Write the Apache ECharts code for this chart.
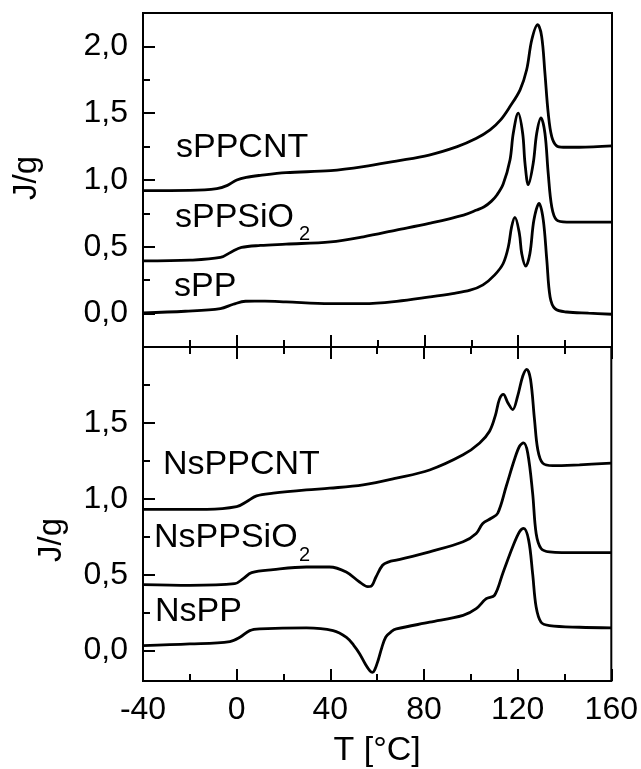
<!DOCTYPE html>
<html><head><meta charset="utf-8">
<script src="https://cdn.jsdelivr.net/npm/echarts@6/dist/echarts.min.js"></script>
<style>html,body{margin:0;padding:0;background:#fff}#c{width:641px;height:769px}</style>
</head><body><div id="c"></div>
<script>
// ---- data ----
const sPPCNT_T = [-40, -20, -8.5, -4, 0, 4, 10, 21, 40, 54, 68, 82, 94, 102, 108, 112.5, 116.5, 120.8, 123.6, 125.8, 128.3, 130, 131.4, 132.8, 134.3, 136.4, 139.2, 146, 160];
const sPPCNT_J = [0.92, 0.922, 0.935, 0.96, 1.0, 1.02, 1.035, 1.055, 1.07, 1.10, 1.142, 1.187, 1.25, 1.31, 1.375, 1.45, 1.55, 1.675, 1.825, 2.05, 2.163, 2.075, 1.80, 1.50, 1.325, 1.255, 1.245, 1.245, 1.255];

const sPPSiO2_T = [-40, -20, -7, -2.5, 2, 10, 21, 40, 54, 68, 82, 96.7, 102.3, 105.5, 108.5, 111, 113.6, 116.5, 117.9, 120, 121.9, 122.9, 124.3, 126.4, 127.9, 129.7, 131.4, 132.8, 134.3, 136.4, 140.7, 160];
const sPPSiO2_J = [0.395, 0.40, 0.42, 0.46, 0.495, 0.51, 0.52, 0.537, 0.575, 0.625, 0.675, 0.737, 0.775, 0.80, 0.84, 0.89, 0.97, 1.15, 1.35, 1.50, 1.35, 1.125, 0.965, 1.125, 1.35, 1.465, 1.35, 1.05, 0.80, 0.70, 0.685, 0.685];

const sPP_T = [-40, -22, -7, -1.5, 3.7, 12, 21, 39.7, 54, 68.2, 82.4, 92, 99.5, 105, 110, 113.6, 115.8, 117.2, 118.6, 120.5, 121.5, 123.2, 125, 126.7, 128.9, 130.7, 132.2, 133.6, 135.7, 140.7, 150, 160];
const sPP_J = [0.005, 0.0175, 0.0375, 0.07, 0.0925, 0.093, 0.0875, 0.075, 0.075, 0.092, 0.125, 0.15, 0.175, 0.215, 0.29, 0.375, 0.50, 0.65, 0.72, 0.60, 0.45, 0.355, 0.45, 0.70, 0.825, 0.70, 0.40, 0.125, 0.0375, 0.012, 0.003, -0.005];

const NsPPCNT_T = [-40, -12.8, 0, 4.2, 8.5, 15.6, 29.8, 39.7, 54, 68.2, 82.4, 96.7, 103.8, 108, 110.5, 112.2, 113.9, 115.8, 117.9, 120, 122.2, 123.9, 125.5, 127.2, 128.6, 130.7, 135, 146.4, 160];
const NsPPCNT_J = [0.931, 0.931, 0.948, 0.981, 1.019, 1.037, 1.059, 1.07, 1.092, 1.136, 1.19, 1.29, 1.368, 1.445, 1.55, 1.655, 1.688, 1.633, 1.588, 1.677, 1.809, 1.853, 1.787, 1.522, 1.324, 1.235, 1.218, 1.224, 1.235];

const NsPPSiO2_T = [-40, -20, -0.8, 2.8, 6.4, 15.6, 29.8, 39.7, 46.8, 52.5, 56, 57.4, 59.5, 62.3, 65, 68.2, 82.4, 96.7, 102.3, 105.1, 108.7, 111.5, 115.1, 118.6, 120.8, 122.5, 124.3, 126.4, 127.9, 130, 133.6, 146, 160];
const NsPPSiO2_J = [0.435, 0.43, 0.441, 0.474, 0.514, 0.534, 0.551, 0.551, 0.518, 0.452, 0.422, 0.424, 0.485, 0.5625, 0.585, 0.596, 0.651, 0.717, 0.772, 0.838, 0.872, 0.905, 1.081, 1.257, 1.346, 1.368, 1.302, 1.037, 0.772, 0.673, 0.651, 0.645, 0.645];

const NsPP_T = [-40, -20, -2.9, 1.4, 5.6, 9.9, 29.8, 41.2, 46.9, 50, 52.5, 55, 57, 58, 59, 60.5, 62, 63.7, 66, 68.2, 82.4, 96.7, 102.3, 106.6, 110.1, 113.6, 117.9, 120.8, 122.6, 124.7, 126.4, 127.9, 130, 133.6, 146.4, 160];
const NsPP_J = [0.033, 0.044, 0.06, 0.088, 0.132, 0.143, 0.15, 0.132, 0.088, 0.035, -0.02, -0.09, -0.135, -0.143, -0.125, -0.06, 0.02, 0.09, 0.125, 0.143, 0.187, 0.232, 0.276, 0.342, 0.364, 0.507, 0.684, 0.783, 0.805, 0.728, 0.507, 0.287, 0.187, 0.165, 0.154, 0.15];

const topYMajor = [0, 0.5, 1.0, 1.5, 2.0];
const topYMinor = [0.25, 0.75, 1.25, 1.75];
const botYMajor = [0, 0.5, 1.0, 1.5];
const botYMinor = [0.25, 0.75, 1.25, 1.75];

const FONT = '"Liberation Sans", Arial, Helvetica, sans-serif';
const zip = (t, j) => t.map((v, i) => [v, j[i]]);
const fmt = v => Number(v).toFixed(1).replace('.', ',');

const chart = echarts.init(document.getElementById('c'), null, {renderer: 'canvas'});

const gridBase = {left: 143, right: 29, height: 334, show: true, borderColor: '#000', borderWidth: 2, backgroundColor: 'transparent'};
const tickStyle = {color: '#000', width: 2};

function xAx(grid, pos, labels) {
  return {
    type: 'value', gridIndex: grid, position: pos, min: -40, max: 160, interval: 40,
    axisLine: {show: false, onZero: false},
    axisTick: {show: true, inside: true, length: 12, lineStyle: tickStyle},
    minorTick: {show: true, splitNumber: 2, length: 7, lineStyle: tickStyle},
    splitLine: {show: false}, minorSplitLine: {show: false},
    axisLabel: {show: labels, color: '#000', fontSize: 32, fontFamily: FONT, margin: 13},
    name: labels ? 'T [°C]' : '', nameLocation: 'middle', nameGap: 53,
    nameTextStyle: {color: '#000', fontSize: 34, fontFamily: FONT}
  };
}
function yAx(grid, min, max, vals, major) {
  return {
    type: 'value', gridIndex: grid, position: 'left', min: min, max: max,
    axisLine: {show: false, onZero: false},
    axisTick: {show: true, inside: true, length: major ? 12 : 7, lineStyle: tickStyle, customValues: vals},
    axisLabel: {show: major, customValues: vals, formatter: fmt, color: '#000', fontSize: 32, fontFamily: FONT, margin: 15},
    splitLine: {show: false}
  };
}
function line(name, t, j, xi, yi) {
  return {
    name: name, type: 'line', xAxisIndex: xi, yAxisIndex: yi, data: zip(t, j),
    showSymbol: false, smooth: 0.35, silent: true,
    lineStyle: {color: '#000', width: 2.8}
  };
}
function txt(s, x, y, size, rot) {
  return {
    type: 'text', x: x, y: y, rotation: rot || 0, silent: true,
    style: {text: s, fill: '#000', font: size + 'px ' + FONT, textAlign: rot ? 'center' : 'left', textVerticalAlign: 'middle'}
  };
}

chart.setOption({
  animation: false,
  backgroundColor: '#fff',
  grid: [Object.assign({top: 13}, gridBase), Object.assign({top: 347}, gridBase)],
  xAxis: [xAx(0, 'bottom', false), xAx(1, 'top', false), xAx(1, 'bottom', true)],
  yAxis: [
    yAx(0, -0.25, 2.25, topYMajor, true), yAx(0, -0.25, 2.25, topYMinor, false),
    yAx(1, -0.2, 2.0, botYMajor, true), yAx(1, -0.2, 2.0, botYMinor, false)
  ],
  series: [
    line('sPPCNT', sPPCNT_T, sPPCNT_J, 0, 0),
    line('sPPSiO2', sPPSiO2_T, sPPSiO2_J, 0, 0),
    line('sPP', sPP_T, sPP_J, 0, 0),
    line('NsPPCNT', NsPPCNT_T, NsPPCNT_J, 2, 2),
    line('NsPPSiO2', NsPPSiO2_T, NsPPSiO2_J, 2, 2),
    line('NsPP', NsPP_T, NsPP_J, 2, 2)
  ],
  graphic: [
    txt('J/g', 27, 178, 33, Math.PI / 2),
    txt('J/g', 52, 540, 33, Math.PI / 2),
    txt('sPPCNT', 176, 147.5, 34),
    txt('sPPSiO', 175, 217.5, 34), txt('2', 299, 234, 20),
    txt('sPP', 174, 286.5, 34),
    txt('NsPPCNT', 163, 464.5, 34),
    txt('NsPPSiO', 154, 537.5, 34), txt('2', 299, 555, 20),
    txt('NsPP', 155, 611.5, 34)
  ]
});
</script></body></html>
